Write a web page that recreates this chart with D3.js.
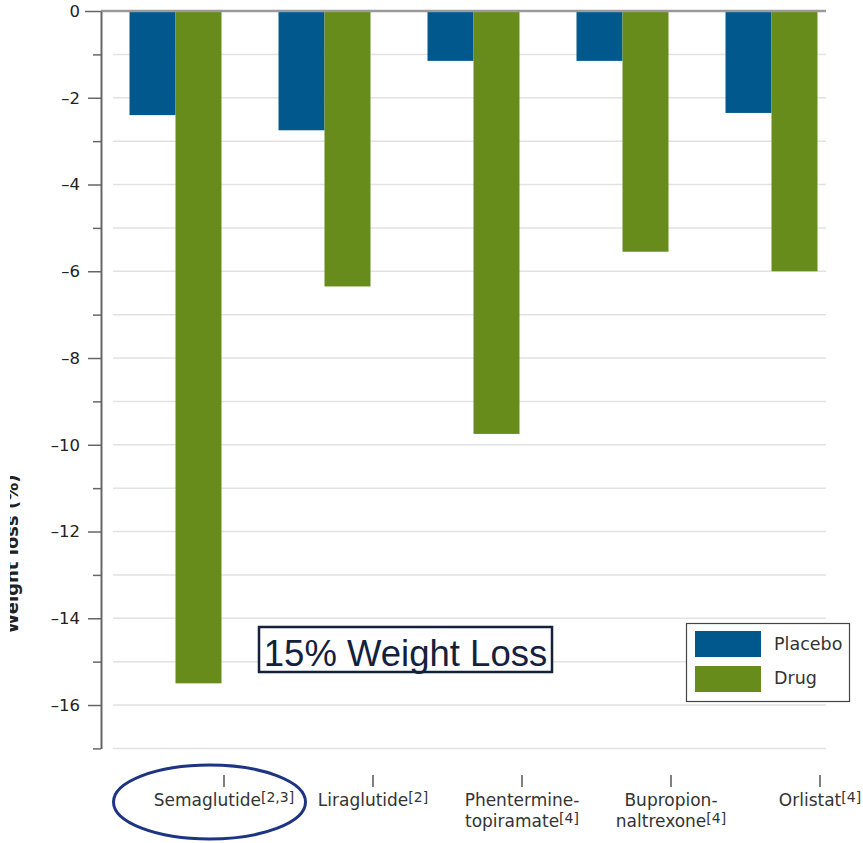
<!DOCTYPE html>
<html>
<head>
<meta charset="utf-8">
<script src="https://cdn.jsdelivr.net/npm/d3@7"></script>
<style>
  html, body { margin: 0; padding: 0; background: #fff; }
  svg { display: block; }
</style>
</head>
<body>
<svg id="chart" width="863" height="843"></svg>
<script>
// Mean weight change (%) versus placebo for anti-obesity drugs
const categories = ["Semaglutide", "Liraglutide", "Phentermine-topiramate", "Bupropion-naltrexone", "Orlistat"];
const labelLines = [["Semaglutide"], ["Liraglutide"], ["Phentermine-", "topiramate"], ["Bupropion-", "naltrexone"], ["Orlistat"]];
const refs = ["[2,3]", "[2]", "[4]", "[4]", "[4]"];
const seriesNames = ["Placebo", "Drug"];
const placebo = [-2.4, -2.75, -1.15, -1.15, -2.35];
const drug = [-15.5, -6.35, -9.75, -5.55, -6.0];
const majorTicks = [0, -2, -4, -6, -8, -10, -12, -14, -16];
const minorTicks = [-1, -3, -5, -7, -9, -11, -13, -15, -17];
const yLabel = "Weight loss (%)";
const callout = "15% Weight Loss";

const colors = { Placebo: "#00588c", Drug: "#678c1b" };
const font = "'DejaVu Sans', Verdana, sans-serif";

const svg = d3.select("#chart");

const x0 = d3.scaleBand().domain(categories).range([101, 846])
  .paddingInner(0.3826).paddingOuter(0.1913);
const x1 = d3.scaleBand().domain(seriesNames).range([0, x0.bandwidth()]);
const y = d3.scaleLinear().domain([0, -17]).range([11, 748.4]);

// horizontal gridlines at every unit
svg.append("g").selectAll("line")
  .data(d3.range(-1, -18, -1))
  .join("line")
  .attr("x1", 113).attr("x2", 826)
  .attr("y1", d => y(d)).attr("y2", d => y(d))
  .attr("stroke", "#e2e2e2").attr("stroke-width", 1.5);

// grouped bars
const rows = categories.map((c, i) => ({ c, Placebo: placebo[i], Drug: drug[i] }));
svg.append("g").selectAll("g")
  .data(rows)
  .join("g")
  .attr("transform", d => `translate(${x0(d.c)},0)`)
  .selectAll("rect")
  .data(d => seriesNames.map(s => ({ s, v: d[s] })))
  .join("rect")
  .attr("x", d => x1(d.s))
  .attr("width", x1.bandwidth())
  .attr("y", y(0))
  .attr("height", d => y(d.v) - y(0))
  .attr("fill", d => colors[d.s]);

// zero line drawn over the bar tops
svg.append("line")
  .attr("x1", 101).attr("x2", 826)
  .attr("y1", y(0)).attr("y2", y(0))
  .attr("stroke", "#9a9a9a").attr("stroke-width", 2.5);

// y axis: labelled major ticks and short minor ticks
const yMajor = svg.append("g").attr("transform", "translate(101,0)")
  .call(d3.axisLeft(y).tickValues(majorTicks).tickSize(13).tickSizeOuter(0).tickPadding(8)
    .tickFormat(d => d < 0 ? "\u2013" + (-d) : String(d)));
const yMinor = svg.append("g").attr("transform", "translate(101,0)")
  .call(d3.axisLeft(y).tickValues(minorTicks).tickSize(8).tickSizeOuter(0).tickFormat(""));
yMinor.select(".domain").remove();
[yMajor, yMinor].forEach(g => {
  g.selectAll("line").attr("stroke", "#666").attr("stroke-width", 1.5);
  g.selectAll(".domain").attr("stroke", "#666").attr("stroke-width", 2);
});
yMajor.selectAll("text")
  .attr("fill", "#222").attr("font-family", font).attr("font-size", 16.5);
yMajor.select(".tick line").attr("x2", -16);

// y axis title, partly cut off at the left edge
svg.append("clipPath").attr("id", "ytitle-clip")
  .append("rect").attr("x", 10).attr("y", 0).attr("width", 40).attr("height", 843);
svg.append("g").attr("clip-path", "url(#ytitle-clip)")
  .append("text")
  .attr("transform", "translate(18,554) rotate(-90)")
  .attr("text-anchor", "middle")
  .attr("font-family", font).attr("font-size", 18).attr("font-weight", "bold")
  .attr("fill", "#222")
  .text(yLabel);

// category ticks and labels sit just right of each group
const tickX = c => x0(c) + x0.bandwidth() + 2.5;
svg.append("g").selectAll("line")
  .data(categories)
  .join("line")
  .attr("x1", tickX).attr("x2", tickX)
  .attr("y1", 775).attr("y2", 787)
  .attr("stroke", "#555").attr("stroke-width", 1.5);

categories.forEach((c, i) => {
  const lines = labelLines[i];
  lines.forEach((ln, j) => {
    const t = svg.append("text")
      .attr("x", tickX(c)).attr("y", 806 + j * 21)
      .attr("text-anchor", "middle")
      .attr("font-family", font).attr("font-size", 17).attr("fill", "#333");
    t.append("tspan").text(ln);
    if (j === lines.length - 1) {
      t.append("tspan").attr("dy", -4).attr("font-size", 14).text(refs[i]);
    }
  });
});

// legend
const lg = svg.append("g");
lg.append("rect")
  .attr("x", 686.5).attr("y", 623.5).attr("width", 163).attr("height", 78)
  .attr("fill", "#fff").attr("stroke", "#444").attr("stroke-width", 1.2);
seriesNames.forEach((s, i) => {
  lg.append("rect")
    .attr("x", 695).attr("y", 631 + i * 35).attr("width", 66).attr("height", 26)
    .attr("fill", colors[s]);
  lg.append("text")
    .attr("x", 774).attr("y", 650 + i * 34)
    .attr("font-family", font).attr("font-size", 17.5).attr("fill", "#333")
    .text(s);
});

// callout box
svg.append("rect")
  .attr("x", 259).attr("y", 627).attr("width", 293).attr("height", 45)
  .attr("fill", "#fff").attr("stroke", "#14213d").attr("stroke-width", 2.5);
svg.append("text")
  .attr("x", 405.5).attr("y", 666)
  .attr("text-anchor", "middle")
  .attr("font-family", "'Liberation Sans', Arial, sans-serif").attr("font-size", 36.5)
  .attr("fill", "#14213d")
  .text(callout);

// highlight ring around the first category label
svg.append("ellipse")
  .attr("cx", 209.5).attr("cy", 802).attr("rx", 96).attr("ry", 37)
  .attr("fill", "none").attr("stroke", "#1d3483").attr("stroke-width", 3);
</script>
</body>
</html>
